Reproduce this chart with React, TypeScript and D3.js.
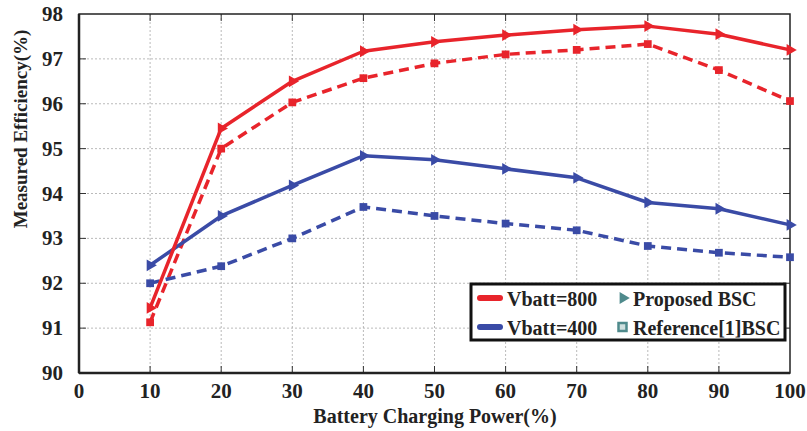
import React from "react";
import * as d3 from "d3";

const powers = [10, 20, 30, 40, 50, 60, 70, 80, 90, 100];
const v800Proposed = [91.45, 95.45, 96.5, 97.17, 97.38, 97.53, 97.65, 97.73, 97.55, 97.2];
const v800Reference = [91.13, 95.0, 96.03, 96.57, 96.9, 97.1, 97.2, 97.33, 96.75, 96.06];
const v400Proposed = [92.4, 93.5, 94.18, 94.84, 94.75, 94.55, 94.35, 93.8, 93.66, 93.3];
const v400Reference = [92.0, 92.38, 93.0, 93.7, 93.5, 93.33, 93.18, 92.83, 92.68, 92.58];
const xTicks = [0, 10, 20, 30, 40, 50, 60, 70, 80, 90, 100];
const yTicks = [90, 91, 92, 93, 94, 95, 96, 97, 98];

const RED = "#e8242b";
const BLUE = "#3a4ba6";
const LEG = "#4f8a8c";
const FONT = "'Liberation Serif', 'Times New Roman', serif";

export default function App() {
  const W = 807, H = 431;
  const L = 79, R = 790, T = 14, B = 373;
  const x = d3.scaleLinear().domain([0, 100]).range([L, R]);
  const y = d3.scaleLinear().domain([90, 98]).range([B, T]);
  const line = d3.line<[number, number]>().x(d => x(d[0])).y(d => y(d[1]));
  const tri = d3.symbol().type(d3.symbolTriangle).size(60)();
  const sq = d3.symbol().type(d3.symbolSquare).size(60)();

  const series = [
    { vals: v800Reference, color: RED, dashed: true },
    { vals: v400Reference, color: BLUE, dashed: true },
    { vals: v400Proposed, color: BLUE, dashed: false },
    { vals: v800Proposed, color: RED, dashed: false },
  ];

  return (
    <svg width={W} height={H} style={{ position: "absolute", left: 0, top: 0, background: "#fff" }} fontFamily={FONT}>
      {/* grid */}
      {xTicks.slice(1, -1).map(t => (
        <line key={"gx" + t} x1={x(t)} x2={x(t)} y1={T} y2={B} stroke="#a8a8a8" strokeWidth={0.8} strokeDasharray="2,2" />
      ))}
      {yTicks.slice(1, -1).map(t => (
        <line key={"gy" + t} x1={L} x2={R} y1={y(t)} y2={y(t)} stroke="#a8a8a8" strokeWidth={0.8} strokeDasharray="2,2" />
      ))}
      {/* ticks inward */}
      {xTicks.slice(1, -1).map(t => (
        <g key={"tx" + t}>
          <line x1={x(t)} x2={x(t)} y1={B} y2={B - 7} stroke="#333" strokeWidth={1} />
          <line x1={x(t)} x2={x(t)} y1={T} y2={T + 7} stroke="#333" strokeWidth={1} />
        </g>
      ))}
      {yTicks.slice(1, -1).map(t => (
        <g key={"ty" + t}>
          <line x1={L} x2={L + 7} y1={y(t)} y2={y(t)} stroke="#333" strokeWidth={1} />
          <line x1={R} x2={R - 7} y1={y(t)} y2={y(t)} stroke="#333" strokeWidth={1} />
        </g>
      ))}
      {/* frame */}
      <rect x={L} y={T} width={R - L} height={B - T} fill="none" stroke="#222" strokeWidth={1.5} />
      <line x1={L} x2={R} y1={B} y2={B} stroke="#222" strokeWidth={2.5} />
      <line x1={L} x2={L} y1={T} y2={B} stroke="#222" strokeWidth={2.5} />

      {/* tick labels */}
      {xTicks.map(t => (
        <text key={"lx" + t} x={x(t)} y={398} textAnchor="middle" fontSize={21} fontWeight="bold" fill="#222">{t}</text>
      ))}
      {yTicks.map(t => (
        <text key={"ly" + t} x={63} y={y(t) + 7} textAnchor="end" fontSize={21} fontWeight="bold" fill="#222">{t}</text>
      ))}
      <text x={435} y={423} textAnchor="middle" fontSize={20} fontWeight="bold" fill="#222">Battery Charging Power(%)</text>
      <text transform={`translate(27,129) rotate(-90)`} textAnchor="middle" fontSize={19} fontWeight="bold" fill="#222">Measured Efficiency(%)</text>

      {/* series */}
      {series.map((s, i) => {
        const pts = powers.map((p, j) => [p, s.vals[j]] as [number, number]);
        return (
          <g key={"s" + i}>
            <path d={line(pts) || ""} fill="none" stroke={s.color} strokeWidth={3.5} strokeDasharray={s.dashed ? "10,6" : undefined} strokeLinejoin="round" />
            {pts.map((d, j) => (
              <path key={j} d={(s.dashed ? sq : tri) || ""} transform={`translate(${x(d[0])},${y(d[1])})${s.dashed ? "" : " rotate(90)"}`} fill={s.color} />
            ))}
          </g>
        );
      })}

      {/* legend */}
      <rect x={471} y={284} width={314} height={56} fill="#fff" stroke="#111" strokeWidth={3} />
      <line x1={480} x2={500} y1={298} y2={298} stroke={RED} strokeWidth={6} strokeLinecap="round" />
      <text x={507} y={306} fontSize={20} fontWeight="bold" fill="#222">Vbatt=800</text>
      <line x1={480} x2={500} y1={327} y2={327} stroke={BLUE} strokeWidth={6} strokeLinecap="round" />
      <text x={507} y={335} fontSize={20} fontWeight="bold" fill="#222">Vbatt=400</text>
      <path d={d3.symbol().type(d3.symbolTriangle).size(60)() || ""} transform="translate(623,298) rotate(90)" fill={LEG} />
      <text x={633} y={306} fontSize={20} fontWeight="bold" fill="#222">Proposed BSC</text>
      <rect x={618.5} y={323} width={8} height={8} fill="#cfe0df" stroke={LEG} strokeWidth={2.5} />
      <text x={633} y={335} fontSize={20} fontWeight="bold" fill="#222">Reference[1]BSC</text>
    </svg>
  );
}
